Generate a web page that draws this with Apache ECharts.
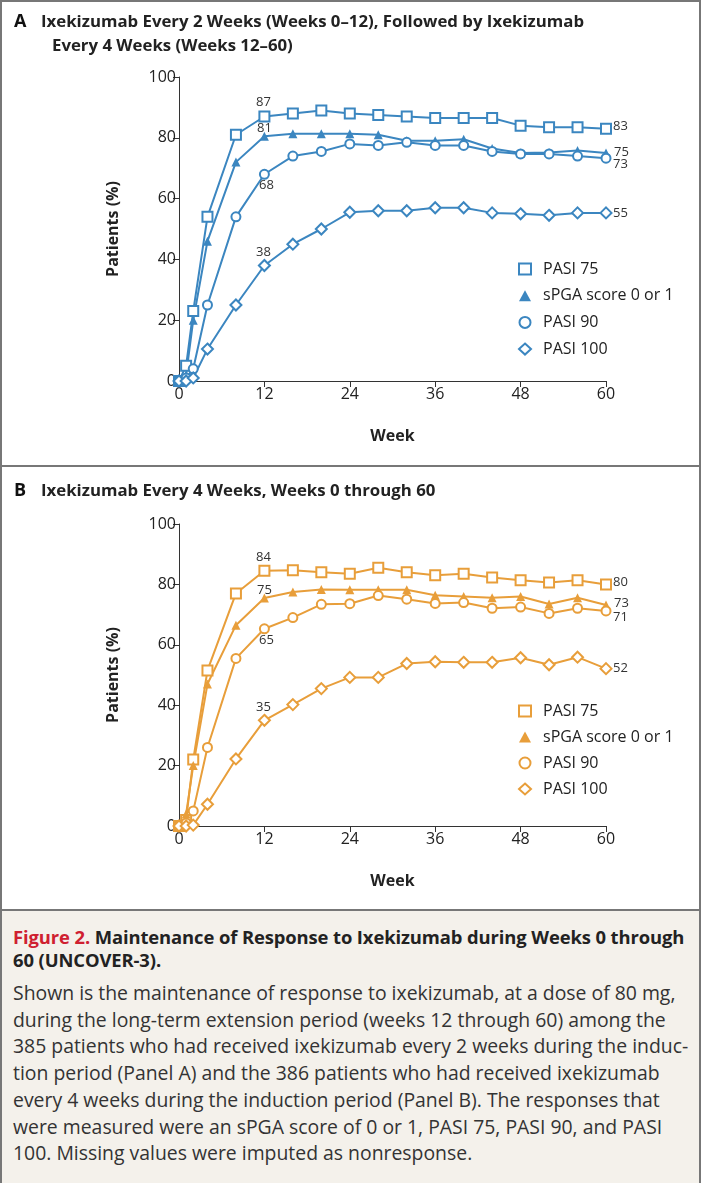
<!DOCTYPE html>
<html>
<head>
<meta charset="utf-8">
<script src="https://cdn.jsdelivr.net/npm/echarts@6/dist/echarts.min.js"></script>
<style>
  html, body { margin: 0; padding: 0; background: #fff; }
  #page { position: relative; width: 701px; height: 1183px; overflow: hidden; font-family: 'Open Sans', 'Noto Sans', sans-serif; }
  #frame { position: absolute; left: 0; top: 0; width: 697px; height: 1190px; border: 2px solid #777; }
  .divider { position: absolute; left: 0; width: 701px; height: 2px; background: #777; }
  #chart_a { position: absolute; left: 0; top: 0; width: 701px; height: 466px; }
  #chart_b { position: absolute; left: 0; top: 466px; width: 701px; height: 444px; }
  #caption { position: absolute; left: 2px; top: 911px; width: 697px; height: 272px; background: #f4f1eb; }
  .cap-title { position: absolute; left: 11px; top: 13.5px; font-size: 18.4px; font-weight: 700; line-height: 23px; color: #222; white-space: nowrap; letter-spacing: -0.1px; }
  .cap-title .red { color: #cf2030; }
  .cap-body { position: absolute; left: 11px; top: 69px; font-size: 19.4px; line-height: 26.7px; color: #333; white-space: nowrap; }
</style>
</head>
<body>
<div id="page">
  <div id="chart_a"></div>
  <div id="chart_b"></div>
  <div id="caption">
    <div class="cap-title"><span class="red">Figure 2.</span> Maintenance of Response to Ixekizumab during Weeks 0 through<br>60 (UNCOVER-3).</div>
    <div class="cap-body">
      Shown is the maintenance of response to ixekizumab, at a dose of 80 mg,<br>
      during the long-term extension period (weeks 12 through 60) among the<br>
      385 patients who had received ixekizumab every 2 weeks during the induc-<br>
      tion period (Panel A) and the 386 patients who had received ixekizumab<br>
      every 4 weeks during the induction period (Panel B). The responses that<br>
      were measured were an sPGA score of 0 or 1, PASI 75, PASI 90, and PASI<br>
      100. Missing values were imputed as nonresponse.
    </div>
  </div>
  <div class="divider" style="top:465px"></div>
  <div class="divider" style="top:909px"></div>
  <div id="frame"></div>
</div>
<script>
const weeks = [0, 1, 2, 4, 8, 12, 16, 20, 24, 28, 32, 36, 40, 44, 48, 52, 56, 60]
const seriesNames = ['PASI 75', 'sPGA score 0 or 1', 'PASI 90', 'PASI 100']
const yTicks = [0, 20, 40, 60, 80, 100]
const xTicks = [0, 12, 24, 36, 48, 60]

// Panel A: every 2 weeks, then every 4 weeks
const aPasi75 = [0, 5, 23, 54, 81, 87, 88, 89, 88, 87.5, 87, 86.5, 86.5, 86.5, 84, 83.5, 83.5, 83]
const aSpga = [0, 2, 20, 46, 72, 80.5, 81.3, 81.3, 81.3, 81, 79, 79, 79.5, 76.5, 75, 75.2, 75.8, 75]
const aPasi90 = [0, 1, 4, 25, 54, 68, 74, 75.5, 78, 77.5, 78.5, 77.5, 77.5, 75.5, 74.7, 74.7, 74, 73.3]
const aPasi100 = [0, 0, 1, 10.5, 25, 38, 45, 50, 55.5, 56, 56, 57, 57, 55.3, 55, 54.5, 55.3, 55.3]
const aLabels12 = ['87', '81', '68', '38']
const aLabels60 = ['83', '75', '73', '55']

// Panel B: every 4 weeks
const bPasi75 = [0, 2, 22, 51.5, 77, 84.5, 84.7, 84, 83.5, 85.5, 84, 83, 83.5, 82.3, 81.4, 80.6, 81.4, 80]
const bSpga = [0, 4, 20, 47, 66.5, 75.5, 77.5, 78.3, 78.2, 78.2, 78.2, 76.4, 76, 75.6, 76, 73.5, 75.6, 73.2]
const bPasi90 = [0, 1, 5, 26, 55.5, 65.3, 69, 73.4, 73.6, 76.3, 75.1, 73.7, 74, 72.1, 72.5, 70.4, 72.1, 71.2]
const bPasi100 = [0, 0, 0.3, 7.2, 22.2, 35, 40.2, 45.5, 49.2, 49.2, 53.8, 54.4, 54.2, 54.2, 55.7, 53.4, 55.9, 52.1]
const bLabels12 = ['84', '75', '65', '35']
const bLabels60 = ['80', '73', '71', '52']

const FONT = "'Open Sans', 'Noto Sans', sans-serif"
const TEXT = '#222'

const symbols = ['rect', 'triangle', 'circle', 'diamond']
const symbolSizes = [10, 9, 9, 11]
const hollow = [true, false, true, true]

// label spot relative to the marker centre: [dx, dy, align, verticalAlign]
const spot12 = [
  [0, -6.5, 'center', 'bottom'],
  [0, -1, 'center', 'bottom'],
  [3, 6, 'center', 'top'],
  [0, -6, 'center', 'bottom']
]
const spot60 = [
  [8, -1.2, 'left', 'middle'],
  [8, -1.2, 'left', 'middle'],
  [8, 7.5, 'left', 'middle'],
  [8, 1, 'left', 'middle']
]

function buildSeries(valueLists, labels12, labels60, color) {
  return valueLists.map((vals, s) => ({
    name: seriesNames[s],
    type: 'line',
    symbol: symbols[s],
    symbolSize: symbolSizes[s],
    lineStyle: { color: color, width: 2 },
    itemStyle: hollow[s]
      ? { color: '#fff', borderColor: color, borderWidth: 2 }
      : { color: color, borderColor: color, borderWidth: 0 },
    emphasis: { disabled: true },
    labelLayout: { hideOverlap: false },
    data: weeks.map((w, i) => {
      const item = { value: [w, vals[i]] }
      let text = null
      let p = null
      if (w === 12) { text = labels12[s]; p = spot12[s] }
      if (w === 60) { text = labels60[s]; p = spot60[s] }
      if (text) {
        const half = symbolSizes[s] / 2
        item.label = {
          show: true,
          formatter: text,
          position: [half + p[0], half + p[1]],
          align: p[2],
          verticalAlign: p[3],
          color: '#333',
          fontSize: 13,
          fontFamily: FONT
        }
      }
      return item
    })
  }))
}

function buildOption(cfg) {
  const titleStyle = { fontSize: 16.8, fontWeight: 'bold', color: '#222', fontFamily: FONT }
  const titles = [
    { text: cfg.letter, left: 9, top: cfg.titleTop - 1, textStyle: { fontSize: 18, fontWeight: 'bold', color: '#111', fontFamily: FONT } },
    { text: cfg.title1, left: 36, top: cfg.titleTop, textStyle: titleStyle }
  ]
  if (cfg.title2) {
    titles.push({ text: cfg.title2, left: 47, top: cfg.titleTop + 24, textStyle: titleStyle })
  }
  return {
    animation: false,
    textStyle: { fontFamily: FONT },
    title: titles,
    grid: { left: 179, top: cfg.gridTop, width: 427, height: cfg.gridHeight, containLabel: false },
    legend: {
      orient: 'vertical',
      left: 513,
      top: cfg.legendTop,
      itemWidth: 12,
      itemHeight: 11,
      itemGap: cfg.legendGap,
      selectedMode: false,
      textStyle: { fontSize: 16, color: TEXT, fontFamily: FONT, lineHeight: 16, padding: [0, 0, 0, 7] },
      data: seriesNames.map((n, s) => ({ name: n, icon: symbols[s] }))
    },
    xAxis: {
      type: 'value',
      min: 0,
      max: 60,
      interval: 12,
      name: 'Week',
      nameLocation: 'middle',
      nameGap: 47,
      nameTextStyle: { fontSize: 16, fontWeight: 'bold', color: TEXT, fontFamily: FONT },
      axisLine: { show: true, lineStyle: { color: '#333', width: 1 } },
      axisTick: { show: true, length: 6, lineStyle: { color: '#333' } },
      axisLabel: { fontSize: 16, color: TEXT, margin: 5, fontFamily: FONT, formatter: (v) => xTicks.indexOf(v) >= 0 ? String(v) : '' },
      splitLine: { show: false }
    },
    yAxis: {
      type: 'value',
      min: 0,
      max: 100,
      interval: 20,
      name: 'Patients (%)',
      nameLocation: 'middle',
      nameGap: 58,
      nameRotate: 90,
      nameTextStyle: { fontSize: 16, fontWeight: 'bold', color: TEXT, fontFamily: FONT },
      axisLine: { show: true, lineStyle: { color: '#333', width: 1 } },
      axisTick: { show: true, length: 6, lineStyle: { color: '#333' } },
      axisLabel: { fontSize: 16, color: TEXT, margin: 3, fontFamily: FONT, formatter: (v) => yTicks.indexOf(v) >= 0 ? String(v) : '' },
      splitLine: { show: false }
    },
    series: buildSeries(cfg.values, cfg.labels12, cfg.labels60, cfg.color)
  }
}

const chartA = echarts.init(document.getElementById('chart_a'))
chartA.setOption(buildOption({
  letter: 'A',
  title1: 'Ixekizumab Every 2 Weeks (Weeks 0\u201312), Followed by Ixekizumab',
  title2: 'Every 4 Weeks (Weeks 12\u201360)',
  titleTop: 9,
  gridTop: 77,
  gridHeight: 304,
  legendTop: 256,
  legendGap: 10.7,
  color: '#3b86c0',
  values: [aPasi75, aSpga, aPasi90, aPasi100],
  labels12: aLabels12,
  labels60: aLabels60
}))

const chartB = echarts.init(document.getElementById('chart_b'))
chartB.setOption(buildOption({
  letter: 'B',
  title1: 'Ixekizumab Every 4 Weeks, Weeks 0 through 60',
  title2: null,
  titleTop: 12,
  gridTop: 58,
  gridHeight: 302,
  legendTop: 232,
  legendGap: 10,
  color: '#e89e3a',
  values: [bPasi75, bSpga, bPasi90, bPasi100],
  labels12: bLabels12,
  labels60: bLabels60
}))
</script>
</body>
</html>
